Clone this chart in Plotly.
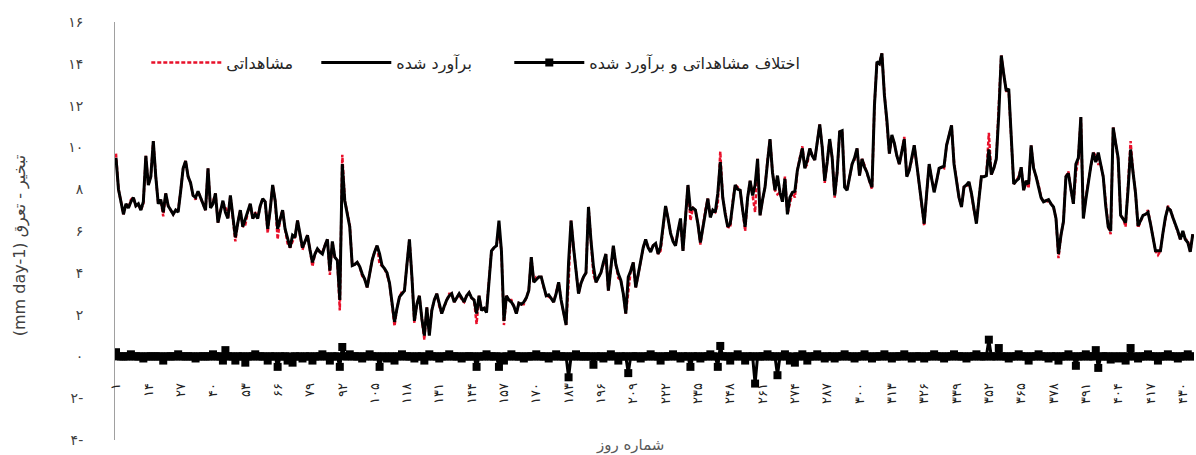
import plotly.graph_objects as go

# daily evapotranspiration (mm/day)
observed = [
    9.7, 8.0, 7.4, 6.8, 7.3, 7.1, 7.5, 7.6, 7.2, 7.3,
    7.0, 7.3, 9.6, 8.2, 8.6, 10.3, 8.6, 7.3, 7.5, 6.7,
    7.8, 7.2, 7.0, 6.8, 7.0, 7.0, 7.9, 9.0, 9.35, 8.6,
    8.3, 7.7, 7.5, 7.9, 7.6, 7.3, 7.0, 9.0, 7.1, 7.4,
    7.8, 6.4, 7.0, 7.25, 7.2, 6.6, 7.7, 6.6, 5.5, 6.4,
    7.0, 6.2, 6.3, 6.9, 7.3, 6.6, 6.9, 6.6, 7.2, 7.55,
    7.4, 5.9, 7.0, 8.2, 7.45, 5.6, 6.6, 7.0, 6.1, 5.4,
    5.2, 5.5, 5.7, 6.5, 5.8, 5.1, 5.5, 5.8, 5.1, 4.3,
    4.9, 5.15, 5.0, 5.0, 5.3, 5.6, 3.9, 5.5, 4.75, 4.6,
    2.2, 9.65, 7.45, 6.8, 6.3, 4.35, 4.4, 4.5, 4.3, 3.85,
    3.7, 3.3, 4.0, 4.6, 5.0, 5.3, 4.4, 4.35, 4.2, 3.9,
    3.5, 2.5, 1.45, 2.3, 2.85, 3.1, 3.15, 4.4, 5.6, 3.8,
    1.6, 2.5, 2.9, 1.8, 0.8, 2.35, 1.1, 2.2, 2.7, 3.0,
    2.4, 2.05, 2.4, 2.7, 3.0, 3.0, 2.6, 2.8, 3.0, 2.7,
    2.6, 2.9, 3.05, 2.8, 2.7, 1.55, 2.9, 2.2, 2.3, 2.2,
    3.5, 5.05, 5.2, 5.3, 6.0, 5.05, 1.5, 2.9, 2.7, 2.7,
    2.4, 2.05, 2.55, 2.5, 2.5, 2.8, 3.15, 4.75, 3.55, 3.8,
    3.8, 3.8, 3.3, 2.9, 2.85, 2.8, 2.6, 3.1, 3.55, 2.7,
    2.0, 1.5, 3.5, 6.5, 5.2, 4.1, 3.0, 3.5, 3.8, 4.0,
    7.15, 5.55, 3.9, 3.55, 3.8, 4.0, 4.4, 4.9, 3.15, 4.3,
    5.3, 4.4, 3.75, 3.65, 3.0, 2.05, 3.0, 4.1, 4.5, 3.3,
    3.9, 4.5, 5.2, 5.6, 5.2, 5.1, 5.3, 5.4, 4.9, 5.05,
    6.3, 7.2, 6.6, 5.9, 5.6, 5.3, 6.0, 6.5, 5.05, 6.8,
    8.2, 6.5, 7.1, 7.0, 6.35, 5.35, 6.2, 7.0, 7.55, 6.75,
    7.0, 6.9, 7.3, 9.8, 7.6, 6.8, 6.2, 6.15, 7.4, 8.2,
    8.1, 7.95, 7.0, 6.0, 7.6, 8.4, 7.7, 6.9, 9.45, 6.75,
    7.5, 8.1, 9.4, 10.4, 8.8, 7.95, 7.75, 7.85, 7.4, 8.6,
    6.8, 7.4, 7.85, 7.6, 8.9, 9.5, 10.05, 9.0, 9.2, 9.95,
    9.6, 9.4, 10.3, 11.1, 10.0, 8.3, 9.3, 10.4, 9.5, 7.6,
    8.8, 10.75, 10.8, 8.2, 7.95, 8.6, 9.2, 9.4, 9.95, 8.65,
    9.45, 9.15, 8.8, 8.4, 8.0, 12.0, 14.1, 14.0, 14.5, 12.6,
    11.3, 9.7, 10.5, 10.2, 9.6, 9.2, 9.8, 10.5, 8.6, 8.9,
    9.4, 10.1, 9.2, 8.25, 7.3, 6.25, 7.8, 9.2, 8.5, 7.95,
    8.4, 9.0, 9.05, 9.0, 10.1, 10.6, 11.05, 9.3, 8.4, 7.6,
    7.15, 8.1, 8.1, 8.35, 7.8, 7.0, 6.45, 7.5, 8.6, 8.6,
    8.65, 10.7, 8.7, 9.0, 9.45, 12.0, 14.4, 13.5, 12.7, 12.7,
    10.5, 8.25, 8.4, 8.6, 9.05, 7.95, 8.4, 8.05, 10.1, 9.0,
    8.6, 8.2, 7.6, 7.4, 7.45, 7.4, 7.3, 7.15, 6.6, 4.7,
    5.8, 6.45, 8.6, 8.85, 8.0, 7.3, 8.75, 9.5, 11.45, 6.6,
    7.6, 8.4, 9.1, 9.75, 9.6, 9.2, 9.2, 8.6, 7.2, 6.2,
    5.85, 10.95, 10.2, 9.4, 6.75, 6.6, 6.2, 8.0, 10.3, 8.8,
    7.8, 6.15, 6.5, 6.75, 6.8, 7.0, 6.35, 5.6, 5.05, 4.85,
    5.05, 5.9, 6.65, 7.2, 7.0, 6.65, 6.35, 5.9, 5.6, 6.0,
    5.6, 5.55, 5.0, 5.85,
]

estimated = [
    9.5, 8.0, 7.4, 6.8, 7.3, 7.1, 7.4, 7.6, 7.2, 7.3,
    7.0, 7.4, 9.6, 8.2, 8.6, 10.3, 8.6, 7.3, 7.5, 6.9,
    7.8, 7.2, 7.0, 6.8, 7.0, 6.9, 7.9, 9.0, 9.35, 8.6,
    8.3, 7.7, 7.6, 7.9, 7.6, 7.3, 7.0, 9.0, 7.1, 7.3,
    7.8, 6.4, 7.0, 7.45, 6.9, 6.6, 7.7, 6.6, 5.7, 6.4,
    7.0, 6.2, 6.6, 6.9, 7.3, 6.6, 6.8, 6.6, 7.2, 7.55,
    7.4, 6.1, 7.0, 8.2, 7.45, 6.1, 6.6, 7.0, 6.1, 5.6,
    5.2, 5.8, 5.7, 6.5, 5.8, 5.2, 5.5, 5.8, 5.1, 4.5,
    4.9, 5.15, 5.0, 4.9, 5.3, 5.6, 4.1, 5.5, 4.75, 4.6,
    2.7, 9.2, 7.45, 6.8, 6.2, 4.35, 4.4, 4.5, 4.3, 3.95,
    3.7, 3.3, 3.9, 4.6, 5.0, 5.3, 4.9, 4.35, 4.2, 4.0,
    3.5, 2.5, 1.65, 2.3, 2.85, 3.0, 3.15, 4.4, 5.6, 3.8,
    1.7, 2.5, 2.9, 1.8, 1.0, 2.35, 1.0, 2.2, 2.7, 3.0,
    2.5, 2.05, 2.4, 2.7, 2.9, 3.0, 2.6, 2.8, 3.0, 2.8,
    2.6, 2.9, 3.05, 2.8, 2.7, 2.05, 2.9, 2.2, 2.3, 2.1,
    3.5, 5.05, 5.2, 5.3, 6.5, 5.05, 1.7, 2.9, 2.7, 2.6,
    2.4, 2.05, 2.55, 2.5, 2.6, 2.8, 3.15, 4.75, 3.55, 3.7,
    3.8, 3.8, 3.3, 2.9, 2.95, 2.8, 2.6, 3.0, 3.55, 2.7,
    2.0, 1.5, 4.5, 6.5, 5.2, 4.0, 3.0, 3.5, 3.8, 4.0,
    7.15, 5.55, 4.3, 3.55, 3.8, 4.0, 4.5, 4.9, 3.15, 4.2,
    5.3, 4.4, 3.95, 3.65, 3.0, 2.05, 3.8, 4.1, 4.5, 3.3,
    3.9, 4.6, 5.2, 5.6, 5.2, 5.0, 5.3, 5.4, 4.9, 5.25,
    6.3, 7.2, 6.6, 5.9, 5.5, 5.3, 6.0, 6.6, 5.05, 6.8,
    8.2, 7.0, 7.1, 7.0, 6.35, 5.45, 6.2, 7.0, 7.55, 6.65,
    7.0, 6.9, 7.8, 9.3, 7.6, 6.8, 6.2, 6.35, 7.4, 8.2,
    8.0, 7.95, 7.0, 6.2, 7.6, 8.4, 7.7, 8.2, 9.45, 6.75,
    7.5, 8.1, 9.3, 10.4, 8.8, 7.95, 8.65, 7.85, 7.4, 8.5,
    6.8, 7.6, 7.85, 7.9, 8.9, 9.5, 9.95, 9.0, 9.4, 9.95,
    9.6, 9.4, 10.2, 11.1, 10.0, 8.4, 9.3, 10.4, 9.5, 7.7,
    8.8, 10.75, 10.8, 8.1, 7.95, 8.6, 9.2, 9.5, 9.95, 8.65,
    9.45, 9.05, 8.8, 8.4, 8.1, 12.0, 14.1, 14.0, 14.5, 12.5,
    11.3, 9.7, 10.6, 10.2, 9.6, 9.2, 9.8, 10.4, 8.6, 8.9,
    9.5, 10.1, 9.2, 8.25, 7.3, 6.35, 7.8, 9.2, 8.5, 7.85,
    8.4, 9.0, 9.05, 9.1, 10.1, 10.6, 11.05, 9.2, 8.4, 7.6,
    7.15, 8.1, 8.2, 8.35, 7.8, 7.0, 6.35, 7.5, 8.6, 8.6,
    8.65, 9.9, 8.7, 9.0, 9.45, 11.6, 14.4, 13.5, 12.7, 12.8,
    10.5, 8.25, 8.4, 8.5, 9.05, 7.95, 8.4, 8.25, 10.1, 9.0,
    8.6, 8.1, 7.6, 7.4, 7.45, 7.5, 7.3, 7.15, 6.6, 4.9,
    5.8, 6.45, 8.6, 8.75, 8.0, 7.3, 9.2, 9.5, 11.45, 6.6,
    7.5, 8.4, 9.1, 9.75, 9.3, 9.75, 9.2, 8.6, 7.2, 6.2,
    6.0, 10.95, 10.2, 9.5, 6.75, 6.6, 6.4, 8.0, 9.9, 8.8,
    7.8, 6.25, 6.5, 6.75, 6.8, 6.9, 6.35, 5.6, 5.05, 5.05,
    5.05, 5.9, 6.65, 7.1, 7.0, 6.65, 6.35, 6.0, 5.6, 6.0,
    5.6, 5.45, 5.0, 5.85,
]

days = list(range(1, len(estimated) + 1))
difference = [round(o - e, 2) for o, e in zip(observed, estimated)]

tick_days = list(range(1, 431, 13))
fa_digits = str.maketrans("0123456789", "۰۱۲۳۴۵۶۷۸۹")
tick_text = [str(d).translate(fa_digits) for d in tick_days]

y_vals = [16, 14, 12, 10, 8, 6, 4, 2, 0, -2, -4]
y_text = ["۱۶", "۱۴", "۱۲", "۱۰", "۸", "۶", "۴", "۲", "۰", "۲-", "۴-"]

FONT = "DejaVu Sans"

fig = go.Figure()
fig.add_trace(go.Scatter(
    x=days, y=observed, name="مشاهداتی", mode="lines",
    line=dict(color="#e8102a", width=2.5, dash="4px,2px"),
    legendwidth=85,
))
fig.add_trace(go.Scatter(
    x=days, y=estimated, name="برآورد شده", mode="lines",
    line=dict(color="black", width=3),
    legendwidth=108,
))
fig.add_trace(go.Scatter(
    x=days, y=difference, name="اختلاف مشاهداتی و برآورد شده",
    mode="lines+markers",
    line=dict(color="black", width=3),
    marker=dict(symbol="square", size=8, color="black"),
))

fig.update_layout(
    width=1196, height=455,
    margin=dict(l=115, r=2, t=22, b=15, autoexpand=False),
    paper_bgcolor="white",
    plot_bgcolor="white",
    font=dict(family=FONT, size=12, color="#333333"),
    legend=dict(
        orientation="h", x=0.029, y=0.903,
        xanchor="left", yanchor="middle",
        font=dict(size=16, color="#262626"),
        bgcolor="rgba(0,0,0,0)",
        itemwidth=70,
    ),
    xaxis=dict(
        range=[0.6, 434.5],
        tickvals=tick_days, ticktext=tick_text, tickangle=-90,
        tickfont=dict(size=13, color="#222222"),
        showgrid=False, zeroline=False, showline=False, ticks="",
        anchor="free", position=0.145, automargin=False,
    ),
    yaxis=dict(
        range=[-4, 16],
        tickvals=y_vals, ticktext=y_text,
        tickfont=dict(size=14, color="#404040"),
        showgrid=False, zeroline=False,
        showline=True, linecolor="#a0a0a0", linewidth=1,
        ticks="", ticklabelstandoff=28, automargin=False,
    ),
    annotations=[
        dict(text="شماره روز", xref="paper", yref="paper",
             x=0.477, y=-0.013, xanchor="center", yanchor="middle",
             showarrow=False, font=dict(size=15, color="#595959")),
        dict(text="(mm day-1) تبخیر - تعرق", xref="paper", yref="paper",
             x=-0.088, y=0.466, xanchor="center", yanchor="middle",
             textangle=-90, showarrow=False,
             font=dict(size=16, color="#404040")),
    ],
)

# page has a default 8px body margin; drop it so the figure fills the window
fig.write_html(
    "out.html",
    config={"displayModeBar": False},
    post_script="document.body.style.margin='0';",
)
